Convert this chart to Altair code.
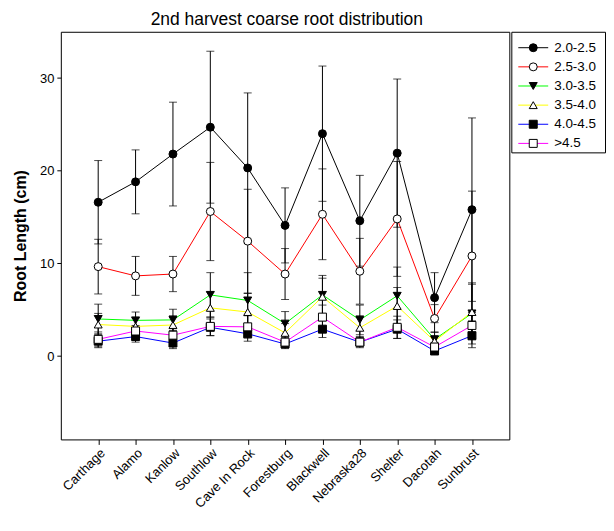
import altair as alt
import pandas as pd

FONT = "Liberation Sans"

cultivars = ["Carthage", "Alamo", "Kanlow", "Southlow", "Cave In Rock", "Forestburg",
             "Blackwell", "Nebraska28", "Shelter", "Dacotah", "Sunbrust"]

series = ["2.0-2.5", "2.5-3.0", "3.0-3.5", "3.5-4.0", "4.0-4.5", ">4.5"]
line_colors = ["#000000", "#ff0000", "#00ff00", "#ffff00", "#0000ff", "#ff00ff"]
marker_shapes = ["circle", "circle", "triangle-down", "triangle-up", "square", "square"]
marker_fills = ["#000000", "#ffffff", "#000000", "#ffffff", "#000000", "#ffffff"]

mean_20_25 = [16.6, 18.8, 21.8, 24.7, 20.3, 14.1, 24.0, 14.6, 21.9, 6.3, 15.8]
mean_25_30 = [9.65, 8.65, 8.85, 15.6, 12.4, 8.85, 15.3, 9.15, 14.8, 4.05, 10.8]
mean_30_35 = [4.0, 3.85, 3.9, 6.6, 6.0, 3.5, 6.6, 3.9, 6.5, 1.8, 4.6]
mean_35_40 = [3.4, 3.2, 3.35, 5.2, 4.75, 2.5, 6.4, 3.05, 5.4, 1.6, 4.75]
mean_40_45 = [1.6, 2.1, 1.4, 3.1, 2.4, 1.3, 2.9, 1.5, 2.9, 0.55, 2.2]
mean_gt45 = [1.8, 2.7, 2.25, 3.2, 3.15, 1.5, 4.2, 1.5, 3.1, 0.97, 3.3]

err_20_25 = [4.5, 3.45, 5.6, 8.2, 8.1, 4.05, 7.3, 4.9, 8.0, 2.7, 9.9]
err_25_30 = [2.95, 2.1, 1.9, 5.3, 5.6, 2.75, 4.9, 3.55, 6.2, 1.5, 7.0]
err_30_35 = [1.6, 0.9, 1.15, 2.4, 3.0, 1.3, 2.1, 1.6, 3.1, 0.8, 3.3]
err_35_40 = [1.2, 0.9, 1.0, 1.7, 2.0, 1.0, 2.0, 1.3, 2.0, 0.6, 3.0]
err_40_45 = [0.7, 0.6, 0.6, 0.9, 0.8, 0.5, 0.9, 0.5, 1.0, 0.4, 1.3]
err_gt45 = [0.8, 0.6, 0.7, 1.0, 1.2, 0.5, 1.3, 0.6, 1.2, 0.5, 1.4]

means = [mean_20_25, mean_25_30, mean_30_35, mean_35_40, mean_40_45, mean_gt45]
errs = [err_20_25, err_25_30, err_30_35, err_35_40, err_40_45, err_gt45]

rows = []
for s, m_list, e_list in zip(series, means, errs):
    for c, m, e in zip(cultivars, m_list, e_list):
        rows.append({"cultivar": c, "series": s, "mean": m, "lo": m - e, "hi": m + e})
df = pd.DataFrame(rows)
legend_df = pd.DataFrame({"series": series})

color_scale = alt.Scale(domain=series, range=line_colors)
shape_scale = alt.Scale(domain=series, range=marker_shapes)
fill_scale = alt.Scale(domain=series, range=marker_fills)

x_enc = alt.X(
    "cultivar:N", sort=cultivars,
    scale=alt.Scale(type="point", padding=1),
    axis=alt.Axis(title=None, labelAngle=-45, labelAlign="right", labelBaseline="top",
                  labelFontSize=13, labelFont=FONT, labelColor="black",
                  tickColor="black", tickSize=5, domain=False, labelPadding=2),
)
y_scale = alt.Scale(domain=[-9, 35], nice=False, zero=False)
y_enc = alt.Y(
    "mean:Q", scale=y_scale,
    axis=alt.Axis(title="Root Length (cm)", values=[0, 10, 20, 30], grid=False,
                  domain=False, tickColor="black", tickSize=4, labelFontSize=13,
                  labelFont=FONT, labelColor="black", titleFont=FONT,
                  titleFontSize=16, titleFontWeight="bold", titleColor="black",
                  titlePadding=11, labelPadding=3),
)

base = alt.Chart(df)

lines = base.mark_line(strokeWidth=1).encode(
    x=x_enc, y=y_enc,
    color=alt.Color("series:N", scale=color_scale, legend=None),
    detail="series:N",
)

bars = base.mark_rule(color="black", strokeWidth=1).encode(
    x=alt.X("cultivar:N", sort=cultivars),
    y=alt.Y("lo:Q", scale=y_scale),
    y2="hi:Q",
)
caps_hi = base.mark_tick(color="black", thickness=1, size=8, orient="horizontal").encode(
    x=alt.X("cultivar:N", sort=cultivars),
    y=alt.Y("hi:Q", scale=y_scale),
)
caps_lo = base.mark_tick(color="black", thickness=1, size=8, orient="horizontal").encode(
    x=alt.X("cultivar:N", sort=cultivars),
    y=alt.Y("lo:Q", scale=y_scale),
)

points = base.mark_point(size=64, stroke="black", strokeWidth=1, opacity=1,
                         fillOpacity=1).encode(
    x=alt.X("cultivar:N", sort=cultivars),
    y=alt.Y("mean:Q", scale=y_scale),
    shape=alt.Shape("series:N", scale=shape_scale, legend=None),
    fill=alt.Fill("series:N", scale=fill_scale, legend=None),
)

main = alt.layer(lines, bars, caps_hi, caps_lo, points).properties(width=450, height=409)

leg_y = alt.Y("series:N", sort=series,
              scale=alt.Scale(type="point", range=[16, 112], padding=0),
              axis=None)
leg_base = alt.Chart(legend_df)
leg_lines = leg_base.mark_rule(strokeWidth=1).encode(
    y=leg_y, x=alt.value(7), x2=alt.value(37),
    color=alt.Color("series:N", scale=color_scale, legend=None),
)
leg_points = leg_base.mark_point(size=64, stroke="black", strokeWidth=1, opacity=1,
                                 fillOpacity=1).encode(
    y=leg_y, x=alt.value(22),
    shape=alt.Shape("series:N", scale=shape_scale, legend=None),
    fill=alt.Fill("series:N", scale=fill_scale, legend=None),
)
leg_text = leg_base.mark_text(align="left", baseline="middle", fontSize=13.5,
                              font=FONT, color="black").encode(
    y=leg_y, x=alt.value(43), text="series:N",
)
legend = alt.layer(leg_lines, leg_points, leg_text).properties(width=94, height=121)

chart = alt.hconcat(main, legend, spacing=0).properties(
    title=alt.TitleParams("2nd harvest coarse root distribution", fontSize=17.5,
                          font=FONT, fontWeight="normal", color="black",
                          anchor="middle", dx=-22, offset=3),
    padding={"left": 4, "top": 2, "right": 0, "bottom": 5},
).configure_view(stroke="black", strokeWidth=1).configure_concat(spacing=0)

chart.save("out.html", embed_options={"renderer": "svg", "actions": False})
